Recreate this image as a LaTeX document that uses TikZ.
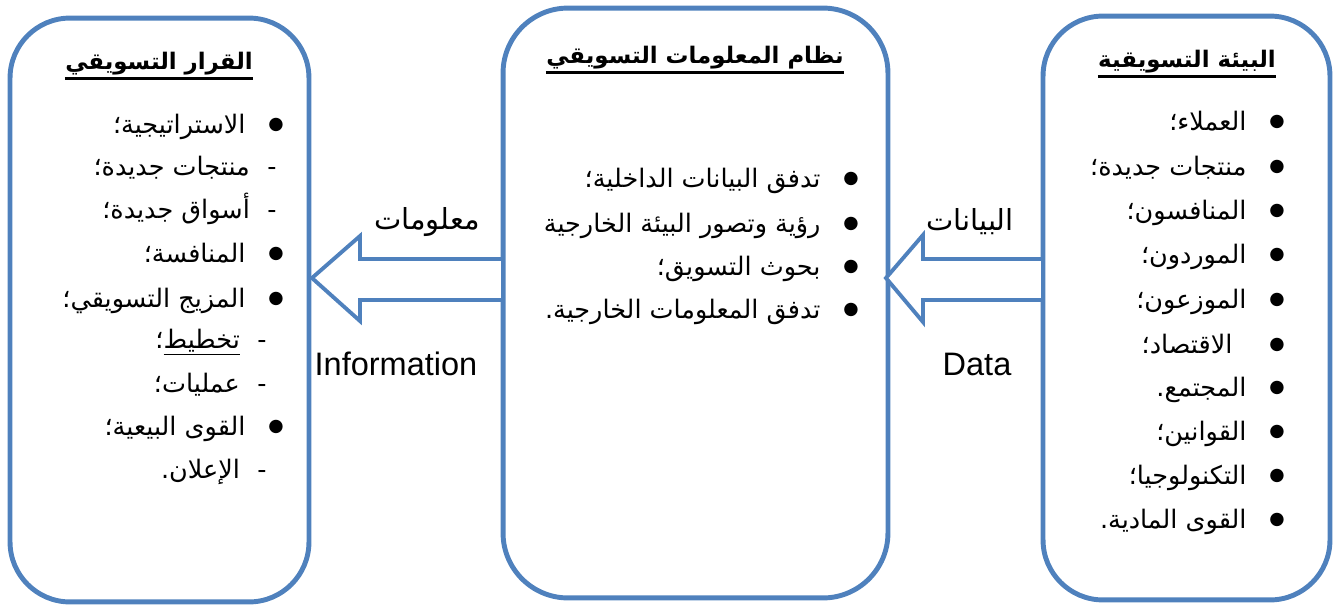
\documentclass[tikz,border=0pt]{standalone}
\usepackage{fontspec}
\setmainfont{Liberation Sans}
\newfontfamily\arabicfont[Script=Arabic]{DejaVu Sans}
\TeXXeTstate=1
\usetikzlibrary{calc}
\definecolor{panelblue}{HTML}{4F81BD}
\newcommand\pbul[1]{\beginR \raisebox{2.2pt}{\fontsize{10}{10}\selectfont ●}\hspace{13pt}#1\endR}
\newcommand\pdash[1]{\beginR -\hspace{10pt}#1\endR}
\tikzset{
	panel/.style={draw=panelblue, line width=2.8pt, rounded corners=1.2cm, outer sep=0pt, inner sep=0pt},
	heading/.style={font=\arabicfont\bfseries\fontsize{13}{16}\selectfont, inner sep=0pt},
	entry/.style={font=\arabicfont\fontsize{14.5}{18}\selectfont, anchor=base east, inner sep=0pt},
	flow/.style={draw=panelblue, line width=2.2pt, fill=white, line join=miter},
	flowlabel/.style={font=\fontsize{18.5}{22}\selectfont, inner sep=0pt},
	ulrule/.style={line width=2pt},
}

\begin{document}
\begin{tikzpicture}[x=0.02cm, y=-0.02cm]
	\useasboundingbox (0,0) rectangle (1336,609);
	\node[panel, minimum width=5.98cm, minimum height=11.68cm] (dec) at (159.5,310) {};
	\node[panel, minimum width=7.7cm, minimum height=11.8cm, rounded corners=1.3cm] (mis) at (695.5,303) {};
	\node[panel, minimum width=5.74cm, minimum height=11.68cm] (env) at (1186.5,308) {};

	\node[heading] (decttl) at (159,64) {\arabicfont\beginR القرار التسويقي\endR};
	\node[heading] (misttl) at (695,58) {\arabicfont\beginR نظام المعلومات التسويقي\endR};
	\node[heading] (envttl) at (1187,62) {\arabicfont\beginR البيئة التسويقية\endR};
	\draw[ulrule] ([yshift=-5pt]decttl.base west) -- ([yshift=-5pt]decttl.base east);
	\draw[ulrule] ([yshift=-5pt]misttl.base west) -- ([yshift=-5pt]misttl.base east);
	\draw[ulrule] ([yshift=-5pt]envttl.base west) -- ([yshift=-5pt]envttl.base east);

	\node[entry] (d1) at (284,133) {\pbul{الاستراتيجية؛}};
	\node[entry] (d2) at (277,175) {\pdash{منتجات جديدة؛}};
	\node[entry] (d3) at (277,218) {\pdash{أسواق جديدة؛}};
	\node[entry] (d4) at (284,262) {\pbul{المنافسة؛}};
	\node[entry] (d5) at (284,307) {\pbul{المزيج التسويقي؛}};
	\node[entry] (d6) at (267,348) {\pdash{\underline{تخطيط}؛}};
	\node[entry] (d7) at (267,392) {\pdash{عمليات؛}};
	\node[entry] (d8) at (284,435) {\pbul{القوى البيعية؛}};
	\node[entry] (d9) at (267,478) {\pdash{الإعلان.}};

	\node[entry] (m1) at (859,187) {\pbul{تدفق البيانات الداخلية؛}};
	\node[entry] (m2) at (859,232) {\pbul{رؤية وتصور البيئة الخارجية}};
	\node[entry] (m3) at (859,275) {\pbul{بحوث التسويق؛}};
	\node[entry] (m4) at (859,318) {\pbul{تدفق المعلومات الخارجية.}};

	\node[entry] (e1) at (1285,130) {\pbul{العملاء؛}};
	\node[entry] (e2) at (1285,175) {\pbul{منتجات جديدة؛}};
	\node[entry] (e3) at (1285,219) {\pbul{المنافسون؛}};
	\node[entry] (e4) at (1285,263) {\pbul{الموردون؛}};
	\node[entry] (e5) at (1285,308) {\pbul{الموزعون؛}};
	\node[entry] (e6) at (1285,353) {\pbul{\hspace{8pt}الاقتصاد؛}};
	\node[entry] (e7) at (1285,396) {\pbul{المجتمع.}};
	\node[entry] (e8) at (1285,440) {\pbul{القوانين؛}};
	\node[entry] (e9) at (1285,484) {\pbul{التكنولوجيا؛}};
	\node[entry] (e10) at (1285,528) {\pbul{القوى المادية.}};

	\draw[flow] ($(dec.east |- 0,278)+(3,0)$) -- (360,236) -- (360,259) -- (mis.west |- 0,259)
		-- (mis.west |- 0,300) -- (360,300) -- (360,321) -- cycle;
	\draw[flow] ($(mis.east |- 0,278)+(-2,0)$) -- (923,235) -- (923,259) -- (env.west |- 0,259)
		-- (env.west |- 0,300) -- (923,300) -- (923,322) -- cycle;

	\node[flowlabel] (infoar) at (427,222) {\arabicfont\fontsize{16.5}{20}\selectfont\beginR معلومات\endR};
	\node[flowlabel] (infoen) at (396,364) {Information};
	\node[flowlabel] (dataar) at (970,222) {\arabicfont\fontsize{16.5}{20}\selectfont\beginR البيانات\endR};
	\node[flowlabel] (dataen) at (977,364) {Data};
\end{tikzpicture}
\end{document}
